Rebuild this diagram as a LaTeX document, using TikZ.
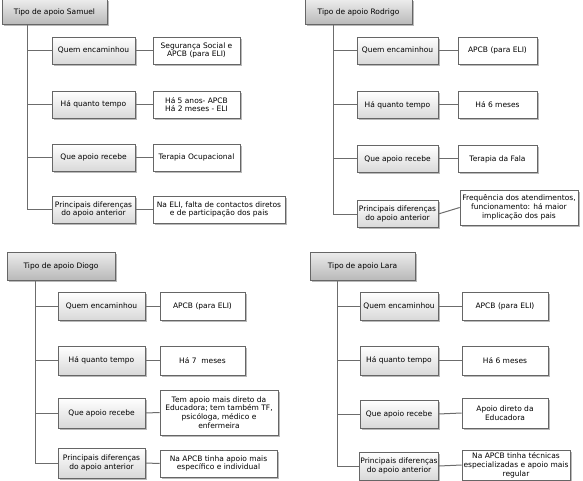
\documentclass[tikz,border=0pt]{standalone}
\usepackage{fontspec}
\setmainfont{DejaVu Sans}
\usetikzlibrary{shadows}

\begin{document}
\begin{tikzpicture}[x=1pt,y=-1pt,
    font=\fontsize{7.5}{8.8}\selectfont,
    caixa/.style={draw=gray!80!black, line width=0.6pt, align=center, inner sep=1pt,
        minimum height=27pt, fill=white,
        drop shadow={shadow xshift=1.6pt, shadow yshift=-1.6pt, opacity=0.55, fill=gray}},
    topo/.style={caixa, top color=gray!15, bottom color=gray!55, minimum height=25pt},
    item/.style={caixa, top color=white, bottom color=gray!30},
    liga/.style={draw=gray!85!black, line width=1pt}]

    % Margini
    \useasboundingbox (0,0) rectangle (583,481);

    % Samuel
    \node[topo, minimum width=105pt] (s0) at (54.5,12) {Tipo de apoio Samuel};
    \node[item, minimum width=83pt] (s1) at (93.5,50.5) {Quem encaminhou};
    \node[item, minimum width=83pt] (s2) at (93.5,104.5) {Há quanto tempo};
    \node[item, minimum width=83pt] (s3) at (93.5,157.5) {Que apoio recebe};
    \node[item, minimum width=83pt] (s4) at (93.5,209.5) {Principais diferenças\\do apoio anterior};
    \node[caixa, minimum width=87pt] (st1) at (196.5,50.5) {Segurança Social e\\APCB (para ELI)};
    \node[caixa, minimum width=87pt] (st2) at (196.5,104.5) {Há 5 anos- APCB\\Há 2 meses - ELI};
    \node[caixa, minimum width=87pt] (st3) at (196.5,157.5) {Terapia Ocupacional};
    \node[caixa, minimum width=132pt] (st4) at (219,209.5) {Na ELI, falta de contactos diretos\\e de participação dos pais};
    \coordinate (sa) at (27,0);
    \draw[liga] (sa |- s0.south) -- (sa |- s4.west) -- (s4.west);
    \foreach \i in {1,2,3} \draw[liga] (sa |- s\i.west) -- (s\i.west);
    \foreach \i in {1,...,4} \draw[liga] (s\i.east) -- (st\i.west);

    % Rodrigo
    \node[topo, minimum width=107pt] (r0) at (358.5,12) {Tipo de apoio Rodrigo};
    \node[item, minimum width=81pt] (r1) at (397.5,50.5) {Quem encaminhou};
    \node[item, minimum width=81pt] (r2) at (397.5,105) {Há quanto tempo};
    \node[item, minimum width=81pt] (r3) at (397.5,159) {Que apoio recebe};
    \node[item, minimum width=81pt] (r4) at (397.5,214) {Principais diferenças\\do apoio anterior};
    \node[caixa, minimum width=79pt] (rt1) at (497.5,50.5) {APCB (para ELI)};
    \node[caixa, minimum width=79pt] (rt2) at (497.5,105) {Há 6 meses};
    \node[caixa, minimum width=79pt] (rt3) at (497.5,159) {Terapia da Fala};
    \node[caixa, minimum width=118pt, minimum height=35pt, inner sep=0pt] (rt4) at (519,207.5) {Frequência dos atendimentos,\\funcionamento: há maior\\implicação dos pais};
    \coordinate (ra) at (333,0);
    \draw[liga] (ra |- r0.south) -- (ra |- r4.west) -- (r4.west);
    \foreach \i in {1,2,3} \draw[liga] (ra |- r\i.west) -- (r\i.west);
    \foreach \i in {1,...,4} \draw[liga] (r\i.east) -- (rt\i.west);

    % Diogo
    \node[topo, minimum width=108pt, minimum height=28pt] (d0) at (61,266) {Tipo de apoio Diogo};
    \node[item, minimum width=87pt, minimum height=28pt] (d1) at (101.5,306) {Quem encaminhou};
    \node[item, minimum width=87pt, minimum height=29pt] (d2) at (101.5,360.5) {Há quanto tempo};
    \node[item, minimum width=87pt, minimum height=30pt] (d3) at (101.5,413) {Que apoio recebe};
    \node[item, minimum width=87pt, minimum height=30pt] (d4) at (101.5,463) {Principais diferenças\\do apoio anterior};
    \node[caixa, minimum width=85pt, minimum height=28pt] (dt1) at (202.5,306) {APCB (para ELI)};
    \node[caixa, minimum width=85pt, minimum height=29pt] (dt2) at (202.5,360.5) {Há 7~ meses};
    \node[caixa, minimum width=118pt, minimum height=45pt, inner sep=0pt] (dt3) at (219,412.5) {Tem apoio mais direto da\\Educadora; tem também TF,\\psicóloga, médico e\\enfermeira};
    \node[caixa, minimum width=117pt, minimum height=27pt] (dt4) at (218.5,463.5) {Na APCB tinha apoio mais\\específico e individual};
    \coordinate (da) at (35,0);
    \draw[liga] (da |- d0.south) -- (da |- d4.west) -- (d4.west);
    \foreach \i in {1,2,3} \draw[liga] (da |- d\i.west) -- (d\i.west);
    \foreach \i in {1,...,4} \draw[liga] (d\i.east) -- (dt\i.west);

    % Lara
    \node[topo, minimum width=105pt, minimum height=28pt] (l0) at (362.5,266) {Tipo de apoio Lara};
    \node[item, minimum width=78pt, minimum height=28pt] (l1) at (399,306) {Quem encaminhou};
    \node[item, minimum width=78pt, minimum height=29pt] (l2) at (399,360.5) {Há quanto tempo};
    \node[item, minimum width=78pt, minimum height=28pt] (l3) at (399,414) {Que apoio recebe};
    \node[item, minimum width=78pt, minimum height=28pt] (l4) at (399,466) {Principais diferenças\\do apoio anterior};
    \node[caixa, minimum width=86pt, minimum height=28pt] (lt1) at (505,306) {APCB (para ELI)};
    \node[caixa, minimum width=86pt, minimum height=29pt] (lt2) at (505,360.5) {Há 6 meses};
    \node[caixa, minimum width=86pt, minimum height=30pt] (lt3) at (505,413) {Apoio direto da\\Educadora};
    \node[caixa, minimum width=108pt, minimum height=30pt, inner sep=0pt] (lt4) at (516,465) {Na APCB tinha técnicas\\especializadas e apoio mais\\regular};
    \coordinate (la) at (337,0);
    \draw[liga] (la |- l0.south) -- (la |- l4.west) -- (l4.west);
    \foreach \i in {1,2,3} \draw[liga] (la |- l\i.west) -- (l\i.west);
    \foreach \i in {1,...,4} \draw[liga] (l\i.east) -- (lt\i.west);

\end{tikzpicture}
\end{document}
